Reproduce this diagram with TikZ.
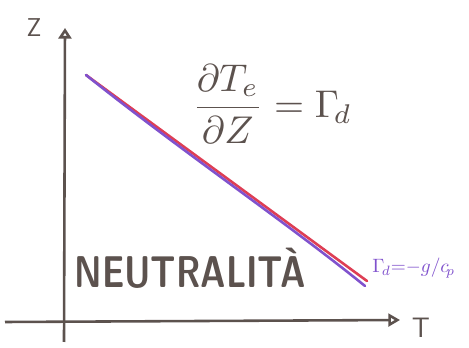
\documentclass[tikz,border=0pt]{standalone}
\usepackage{amsmath, amssymb}
\usetikzlibrary{arrows.meta, positioning, calc}
\definecolor{inkgray}{RGB}{92, 82, 78}
\definecolor{linered}{RGB}{222, 62, 84}
\definecolor{linepurple}{RGB}{128, 82, 205}

\begin{document}
\begin{tikzpicture}[x=0.03cm, y=-0.03cm]
  \useasboundingbox (0, 0) rectangle (469, 348);

  % Axes
  \coordinate (zbot) at (64, 342);
  \coordinate (ztop) at (65, 28);
  \coordinate (tleft) at (5, 322);
  \coordinate (tright) at (400, 320);
  \draw[inkgray, line width=2.2pt, -{Triangle[open, length=9pt, width=11pt]}] (zbot) -- (ztop);
  \draw[inkgray, line width=2.2pt, -{Triangle[open, length=10pt, width=11pt]}] (tleft) -- (tright);
  \node[text=inkgray, font=\sffamily\fontsize{22}{22}\selectfont] (zlab) at (34, 28) {Z};
  \node[text=inkgray, font=\sffamily\fontsize{24}{24}\selectfont] (tlab) at (421, 328) {T};

  % Profile lines
  \coordinate (ptop) at (86, 75);
  \coordinate (pbot) at (367, 281);
  \draw[linered, line width=2.2pt, line cap=round] (ptop) -- (pbot);
  \draw[linepurple, line width=2.2pt, line cap=round] (ptop) .. controls (180, 150) and (290, 225) .. ($(pbot)+(-2, 5)$);

  % Lapse rate
  \node[text=inkgray, scale=3.3, inner sep=0pt] (grad) at (272, 104)
    {$\dfrac{\partial T_e}{\partial Z} = \Gamma_{\!d}$};

  % Labels
  \node[text=inkgray, font=\sffamily\bfseries\fontsize{38}{38}\selectfont, xscale=0.78, inner sep=0pt] (neut) at (190, 268) {NEUTRALIT\`A};
  \node[text=linepurple, scale=1.65, inner sep=0pt, anchor=west] (gdry) at (372, 268) {$\Gamma_{\!d}{=}{-}g/c_{\!p}$};
\end{tikzpicture}
\end{document}
